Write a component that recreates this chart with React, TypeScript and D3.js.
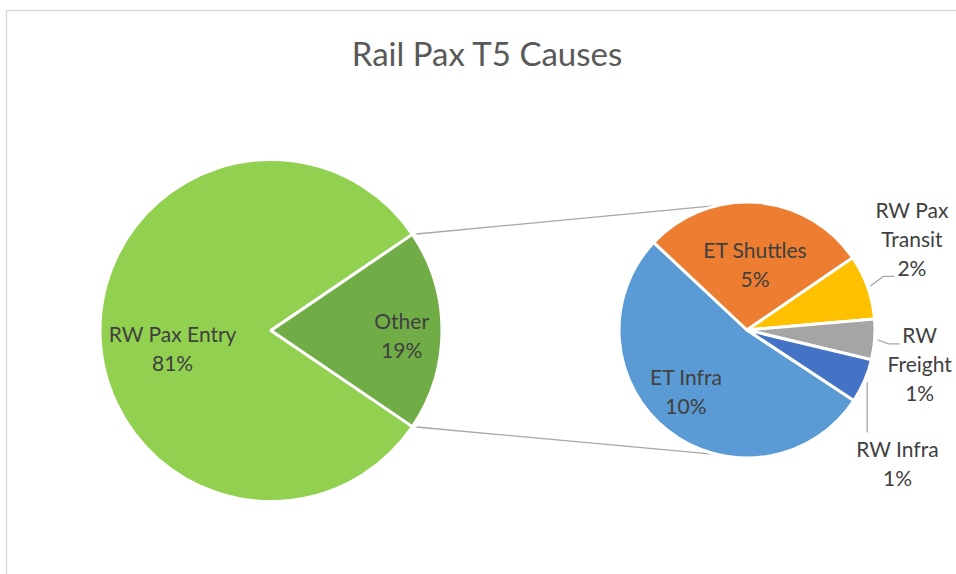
import React, { useEffect, useRef } from "react";
import * as d3 from "d3";

// primary pie
const primaryLabels = ["RW Pax Entry", "Other"];
const primaryValues = [81, 19];
const primaryColors = ["#92D050", "#70AD47"];

// secondary pie (breakdown of "Other")
const secondaryLabels = ["ET Infra", "ET Shuttles", "RW Pax Transit", "RW Freight", "RW Infra"];
const secondaryValues = [10.0, 5.4, 1.55, 0.97, 1.05];
const secondaryColors = ["#5B9BD5", "#ED7D31", "#FFC000", "#A5A5A5", "#4472C4"];

// how the category names wrap in the labels
const primaryWrap = [["RW Pax Entry"], ["Other"]];
const secondaryWrap = [["ET Infra"], ["ET Shuttles"], ["RW Pax", "Transit"], ["RW", "Freight"], ["RW Infra"]];

const title = "Rail Pax T5 Causes";

const deg = Math.PI / 180;

const App = () => {
  const chartRef = useRef<SVGSVGElement>(null);

  useEffect(() => {
    const svg = d3.select(chartRef.current);
    svg.selectAll("*").remove();

    const width = 956;
    const height = 574;
    const font = "Lato, 'Open Sans', sans-serif";
    const textColor = "#404040";
    const lineColor = "#A6A6A6";
    const labelSize = 21;
    const lineHeight = 29;
    const capHeight = labelSize * 0.717;

    svg.attr("width", width).attr("height", height);

    // chart area border (only top and left visible in the crop)
    svg
      .append("path")
      .attr("d", `M${width},10.5 H6.5 V${height}`)
      .attr("fill", "none")
      .attr("stroke", "#D9D9D9")
      .attr("stroke-width", 1.5);

    svg
      .append("text")
      .attr("x", 487)
      .attr("y", 66)
      .attr("text-anchor", "middle")
      .attr("fill", "#595959")
      .style("font-family", font)
      .style("font-size", "33px")
      .text(title);

    const main = { cx: 271, cy: 330.5, r: 171 };
    const sub = { cx: 747, cy: 330, r: 128 };

    const polar = (c: { cx: number; cy: number }, a: number, rad: number) => [
      c.cx + rad * Math.sin(a),
      c.cy - rad * Math.cos(a),
    ];

    // main pie: "Other" centred at 3 o'clock
    const otherShare = primaryValues[1] / d3.sum(primaryValues);
    const mainStart = Math.PI / 2 + Math.PI * otherShare;
    const mainPie = d3
      .pie<number>()
      .sort(null)
      .startAngle(mainStart)
      .endAngle(mainStart + 2 * Math.PI);
    const mainArcs = mainPie(primaryValues);
    const mainArc = d3.arc<d3.PieArcDatum<number>>().innerRadius(0).outerRadius(main.r);

    const subStart = 123.4 * deg;
    const subPie = d3
      .pie<number>()
      .sort(null)
      .startAngle(subStart)
      .endAngle(subStart + 2 * Math.PI);
    const subArcs = subPie(secondaryValues);
    const subArc = d3.arc<d3.PieArcDatum<number>>().innerRadius(0).outerRadius(sub.r);

    // connector lines between the "Other" slice and the secondary pie
    const other = mainArcs[1];
    const targets = [-13 * deg, 193 * deg];
    [other.startAngle, other.endAngle].forEach((a, i) => {
      const [x0, y0] = polar(main, a, main.r);
      const [x1, y1] = polar(sub, targets[i], sub.r);
      const len = Math.hypot(x1 - x0, y1 - y0);
      const gap = 4;
      svg
        .append("line")
        .attr("x1", x0 + ((x1 - x0) * gap) / len)
        .attr("y1", y0 + ((y1 - y0) * gap) / len)
        .attr("x2", x1)
        .attr("y2", y1)
        .attr("stroke", lineColor)
        .attr("stroke-width", 1.3);
    });

    const gMain = svg.append("g").attr("transform", `translate(${main.cx},${main.cy})`);
    gMain
      .selectAll("path")
      .data(mainArcs)
      .enter()
      .append("path")
      .attr("d", mainArc)
      .attr("fill", (d, i) => primaryColors[i])
      .attr("stroke", "white")
      .attr("stroke-width", 3)
      .attr("stroke-linejoin", "round");

    const gSub = svg.append("g").attr("transform", `translate(${sub.cx},${sub.cy})`);
    gSub
      .selectAll("path")
      .data(subArcs)
      .enter()
      .append("path")
      .attr("d", subArc)
      .attr("fill", (d, i) => secondaryColors[i])
      .attr("stroke", "white")
      .attr("stroke-width", 3)
      .attr("stroke-linejoin", "round");

    // label placement: angle (deg) and distance as a fraction of radius
    const mainLayout = [
      { a: 259.6, k: 0.585 },
      { a: 92.6, k: 0.765 },
    ];
    const subLayout = [
      { a: 224.8, k: 0.677, leader: "" },
      { a: 7.0, k: 0.512, leader: "" },
      { a: 61.2, k: 1.47, leader: "last" },
      { a: 101.4, k: 1.376, leader: "first" },
      { a: 131.6, k: 1.572, leader: "top" },
    ];

    const drawLabel = (c: { cx: number; cy: number; r: number }, lines: string[], a: number, k: number) => {
      const [x, y] = polar(c, a * deg, c.r * k);
      const first = y - ((lines.length - 1) * lineHeight) / 2 + capHeight / 2;
      const t = svg
        .append("text")
        .attr("text-anchor", "middle")
        .attr("fill", textColor)
        .style("font-family", font)
        .style("font-size", `${labelSize}px`);
      lines.forEach((l, i) => {
        t.append("tspan").attr("x", x).attr("y", first + i * lineHeight).text(l);
      });
      return { x, first, t };
    };

    const pct = (v: number, total: number) => `${Math.round((v / total) * 100)}%`;
    const total = d3.sum(primaryValues);

    primaryLabels.forEach((name, i) => {
      const lay = mainLayout[i];
      drawLabel(main, [...primaryWrap[i], pct(primaryValues[i], total)], lay.a, lay.k);
    });

    secondaryLabels.forEach((name, i) => {
      const lay = subLayout[i];
      const lines = [...secondaryWrap[i], pct(secondaryValues[i], total)];
      const lbl = drawLabel(sub, lines, lay.a, lay.k);
      if (!lay.leader) return;

      const d = subArcs[i];
      const mid = (d.startAngle + d.endAngle) / 2;
      const [sx, sy] = polar(sub, mid, sub.r + 3);
      const spans = lbl.t.selectAll<SVGTSpanElement, unknown>("tspan").nodes();
      let pts: number[][] = [];
      if (lay.leader === "top") {
        const top = lbl.first - capHeight - 9;
        pts = [[sx, sy], [sx, top]];
      } else {
        const idx = lay.leader === "last" ? spans.length - 1 : 0;
        const w = spans[idx].getComputedTextLength();
        const ex = lbl.x - w / 2 - 3;
        const ey = lbl.first + idx * lineHeight + 0.5;
        pts = [[sx, sy], [ex - 11, ey], [ex, ey]];
      }
      svg
        .append("path")
        .attr("d", d3.line()(pts as [number, number][]))
        .attr("fill", "none")
        .attr("stroke", lineColor)
        .attr("stroke-width", 1.3);
    });
  }, []);

  return (
    <div>
      <svg ref={chartRef} style={{ position: "absolute", left: 0, top: 0 }}></svg>
    </div>
  );
};

export default App;
